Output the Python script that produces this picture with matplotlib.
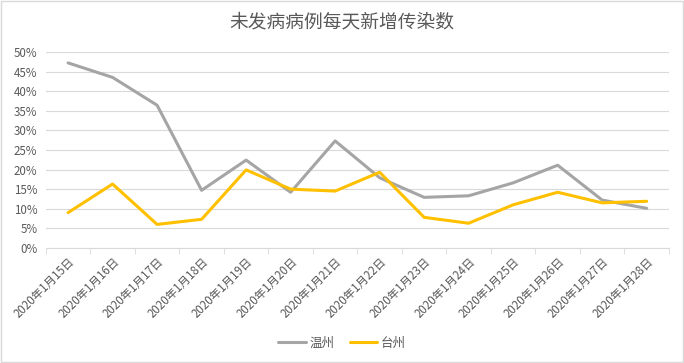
import matplotlib
matplotlib.use("Agg")
import matplotlib.pyplot as plt
import numpy as np

plt.rcParams['font.family'] = ['Noto Sans CJK SC', 'DejaVu Sans']

dates = ["2020年1月15日", "2020年1月16日", "2020年1月17日", "2020年1月18日",
         "2020年1月19日", "2020年1月20日", "2020年1月21日", "2020年1月22日",
         "2020年1月23日", "2020年1月24日", "2020年1月25日", "2020年1月26日",
         "2020年1月27日", "2020年1月28日"]
wenzhou = [47.2, 43.5, 36.4, 14.7, 22.4, 14.2, 27.3, 17.9, 12.9, 13.3, 16.6, 21.1, 12.2, 10.1]
taizhou = [9.0, 16.3, 6.0, 7.3, 19.9, 15.0, 14.5, 19.3, 7.8, 6.3, 11.0, 14.2, 11.5, 11.9]

fig = plt.figure(figsize=(6.84, 3.63), dpi=100)
ax = fig.add_axes([0.067, 0.317, 0.911, 0.54])

x = np.arange(len(dates))
ax.plot(x, wenzhou, color='#a5a5a5', lw=2.2, label='温州', solid_capstyle='round')
ax.plot(x, taizhou, color='#ffc000', lw=2.2, label='台州', solid_capstyle='round')

ax.set_xlim(-0.5, len(dates) - 0.5)
ax.set_ylim(0, 50)
ax.set_yticks(range(0, 51, 5))
ax.set_yticklabels([f"{v}%" for v in range(0, 51, 5)])
ax.grid(axis='y', color='#d9d9d9', lw=0.8)
ax.set_axisbelow(True)

ax.set_xticks(x)
ax.set_xticklabels(dates, rotation=45, ha='right', va='top', rotation_mode='anchor')
ax.set_xticks(np.arange(-0.5, len(dates)), minor=True)
ax.tick_params(axis='x', which='major', length=0, pad=5, labelsize=8.3, colors='#595959')
ax.tick_params(axis='x', which='minor', length=4, color='#d9d9d9')
ax.tick_params(axis='y', length=0, labelsize=8.3, colors='#595959', pad=6)

for s in ['top', 'right', 'left']:
    ax.spines[s].set_visible(False)
ax.spines['bottom'].set_color('#d9d9d9')

fig.text(0.5, 0.94, "未发病病例每天新增传染数", ha='center', va='center',
         fontsize=13.5, color='#595959')

fig.legend(loc='center', bbox_to_anchor=(0.5, 0.055), ncol=2, frameon=False,
           fontsize=9, handlelength=2.2, handletextpad=0.3, columnspacing=1.2,
           labelcolor='#595959')

fig.patches.append(plt.Rectangle((0.002, 0.002), 0.996, 0.996, transform=fig.transFigure,
                                 fill=False, edgecolor='#d9d9d9', lw=1))

fig.savefig("out.png", dpi=100)
